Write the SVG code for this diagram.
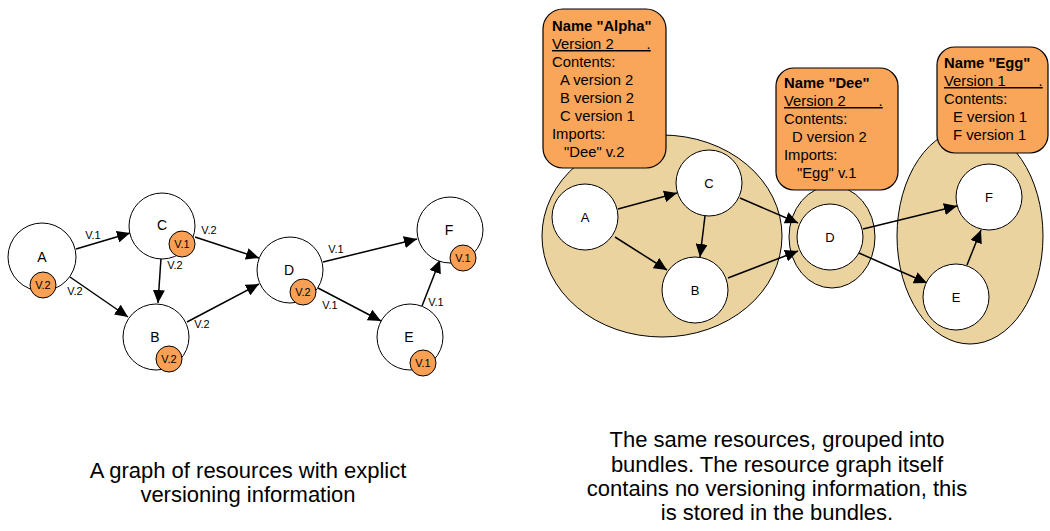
<svg xmlns="http://www.w3.org/2000/svg" width="1050" height="531" viewBox="0 0 1050 531">
  <style>
    .node { fill: #ffffff; stroke: #000000; stroke-width: 1; }
    .badge { fill: #F9A055; stroke: #000000; stroke-width: 1; }
    .bundle { fill: #EBD3A0; stroke: #000000; stroke-width: 1; }
    .box { fill: #F9A55A; stroke: #000000; stroke-width: 1.2; }
    .edge { fill: none; stroke: #000000; stroke-width: 1.5; marker-end: url(#arrow); }
    text { font-family: "Liberation Sans", Arial, sans-serif; fill: #000000; }
    .lbl { font-size: 14px; text-anchor: middle; }
    .lbl2 { font-size: 13px; text-anchor: middle; }
    .ver { font-size: 11px; text-anchor: middle; }
    .btxt { font-size: 14.8px; }
    .bold { font-weight: bold; }
    .ul { text-decoration: underline; white-space: pre; }
    .cap { font-size: 22px; text-anchor: middle; }
  </style>
  <defs>
    <marker id="arrow" markerUnits="userSpaceOnUse" markerWidth="14" markerHeight="12" refX="13" refY="6" orient="auto">
      <path d="M0,0 L13,6 L0,12 Z" fill="#000000"/>
    </marker>
  </defs>

  <!-- Left: resource graph with per-node versions -->
  <g id="left-connectors">
    <path class="edge" d="M76,249 L130,233"/>
    <path class="edge" d="M70,277 L128,317"/>
    <path class="edge" d="M161,258 L158,303"/>
    <path class="edge" d="M195,237 L259,258"/>
    <path class="edge" d="M187,322 L259,284"/>
    <path class="edge" d="M323,262 L417,239"/>
    <path class="edge" d="M318,288 L381,321"/>
    <path class="edge" d="M422,306 L440,260"/>
    <text class="ver" x="93" y="239">V.1</text>
    <text class="ver" x="75" y="295">V.2</text>
    <text class="ver" x="175" y="269">V.2</text>
    <text class="ver" x="209" y="234">V.2</text>
    <text class="ver" x="202" y="328">V.2</text>
    <text class="ver" x="336" y="253">V.1</text>
    <text class="ver" x="330" y="309">V.1</text>
    <text class="ver" x="436" y="306">V.1</text>
  </g>

  <g id="l-node-a">
    <circle class="node" cx="42" cy="257" r="34"/>
    <text class="lbl" x="42" y="262">A</text>
    <circle class="badge" cx="43" cy="285" r="13"/>
    <text class="ver" x="43" y="289">V.2</text>
  </g>
  <g id="l-node-c">
    <circle class="node" cx="162" cy="226" r="33"/>
    <text class="lbl" x="162" y="230">C</text>
    <circle class="badge" cx="182" cy="244" r="13"/>
    <text class="ver" x="182" y="248">V.1</text>
  </g>
  <g id="l-node-b">
    <circle class="node" cx="156" cy="337" r="33"/>
    <text class="lbl" x="155" y="342">B</text>
    <circle class="badge" cx="169" cy="359" r="13"/>
    <text class="ver" x="169" y="363">V.2</text>
  </g>
  <g id="l-node-d">
    <circle class="node" cx="290" cy="270" r="33"/>
    <text class="lbl" x="289" y="275">D</text>
    <circle class="badge" cx="303" cy="292" r="13"/>
    <text class="ver" x="303" y="296">V.2</text>
  </g>
  <g id="l-node-f">
    <circle class="node" cx="450" cy="230" r="33"/>
    <text class="lbl" x="449" y="235">F</text>
    <circle class="badge" cx="463" cy="258" r="13"/>
    <text class="ver" x="463" y="262">V.1</text>
  </g>
  <g id="l-node-e">
    <circle class="node" cx="410" cy="337" r="33"/>
    <text class="lbl" x="409" y="342">E</text>
    <circle class="badge" cx="423" cy="363" r="13"/>
    <text class="ver" x="423" y="367">V.1</text>
  </g>

  <!-- Right: the same resources grouped into bundles -->
  <g id="bundle-alpha-area">
    <ellipse class="bundle" cx="662" cy="236" rx="120" ry="101"/>
  </g>
  <g id="bundle-dee-area">
    <ellipse class="bundle" cx="832" cy="237" rx="43" ry="51"/>
  </g>
  <g id="bundle-egg-area">
    <ellipse class="bundle" cx="970" cy="236" rx="73" ry="108"/>
  </g>

  <g id="bundle-alpha">
    <rect class="box" x="543" y="9" width="123" height="159" rx="20" ry="20"/>
    <text class="btxt bold" x="552" y="31">Name "Alpha"</text>
    <text class="btxt ul" x="552" y="49" xml:space="preserve">Version 2        .</text>
    <text class="btxt" x="552" y="67">Contents:</text>
    <text class="btxt" x="560" y="85">A version 2</text>
    <text class="btxt" x="560" y="103">B version 2</text>
    <text class="btxt" x="560" y="121">C version 1</text>
    <text class="btxt" x="552" y="139">Imports:</text>
    <text class="btxt" x="564" y="157">"Dee" v.2</text>
  </g>
  <g id="bundle-dee">
    <rect class="box" x="776" y="68" width="122" height="122" rx="18" ry="18"/>
    <text class="btxt bold" x="784" y="88">Name "Dee"</text>
    <text class="btxt ul" x="784" y="106" xml:space="preserve">Version 2        .</text>
    <text class="btxt" x="784" y="124">Contents:</text>
    <text class="btxt" x="792" y="142">D version 2</text>
    <text class="btxt" x="784" y="160">Imports:</text>
    <text class="btxt" x="797" y="178">"Egg" v.1</text>
  </g>
  <g id="bundle-egg">
    <rect class="box" x="937" y="47" width="111" height="106" rx="18" ry="18"/>
    <text class="btxt bold" x="944" y="68">Name "Egg"</text>
    <text class="btxt ul" x="944" y="86" xml:space="preserve">Version 1        .</text>
    <text class="btxt" x="944" y="104">Contents:</text>
    <text class="btxt" x="953" y="122">E version 1</text>
    <text class="btxt" x="953" y="140">F version 1</text>
  </g>

  <g id="right-connectors">
    <path class="edge" d="M618,209 L677,193"/>
    <path class="edge" d="M615,237 L667,270"/>
    <path class="edge" d="M705,216 L700,257"/>
    <path class="edge" d="M740,198 L798,223"/>
    <path class="edge" d="M728,278 L798,251"/>
    <path class="edge" d="M863,229 L957,206"/>
    <path class="edge" d="M859,253 L927,283"/>
    <path class="edge" d="M967,265 L981,230"/>
  </g>

  <g id="r-node-a">
    <circle class="node" cx="585" cy="217" r="33"/>
    <text class="lbl2" x="585" y="222">A</text>
  </g>
  <g id="r-node-c">
    <circle class="node" cx="709" cy="183" r="33"/>
    <text class="lbl2" x="709" y="188">C</text>
  </g>
  <g id="r-node-b">
    <circle class="node" cx="695" cy="290" r="33"/>
    <text class="lbl2" x="695" y="295">B</text>
  </g>
  <g id="r-node-d">
    <circle class="node" cx="830" cy="237" r="33"/>
    <text class="lbl2" x="830" y="242">D</text>
  </g>
  <g id="r-node-f">
    <circle class="node" cx="989" cy="197" r="33"/>
    <text class="lbl2" x="989" y="202">F</text>
  </g>
  <g id="r-node-e">
    <circle class="node" cx="956" cy="297" r="33"/>
    <text class="lbl2" x="956" y="302">E</text>
  </g>

  <!-- Captions -->
  <g id="caption-left">
    <text class="cap" x="248" y="478">A graph of resources with explict</text>
    <text class="cap" x="248" y="502">versioning information</text>
  </g>
  <g id="caption-right">
    <text class="cap" x="777" y="447">The same resources, grouped into</text>
    <text class="cap" x="777" y="472">bundles. The resource graph itself</text>
    <text class="cap" x="777" y="496">contains no versioning information, this</text>
    <text class="cap" x="777" y="520">is stored in the bundles.</text>
  </g>
</svg>
